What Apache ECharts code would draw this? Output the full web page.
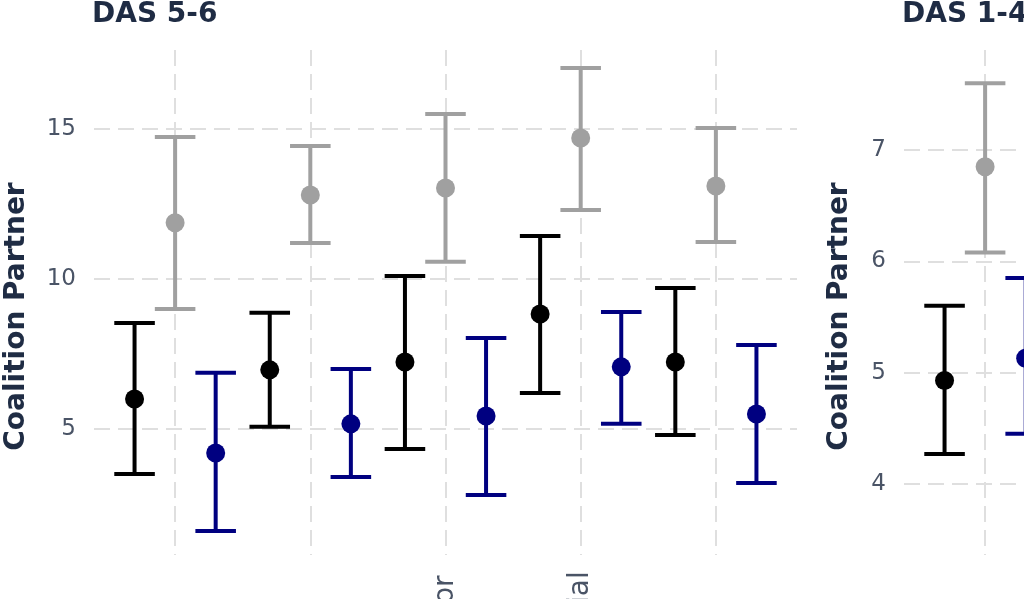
<!DOCTYPE html>
<html>
<head>
<meta charset="utf-8">
<style>
  html, body { margin: 0; padding: 0; background: #ffffff; }
  #chart { width: 1024px; height: 599px; }
</style>
<script src="https://cdn.jsdelivr.net/npm/echarts@6/dist/echarts.min.js"></script>
</head>
<body>
<div id="chart"></div>
<script>
// x categories (only the tail of two labels shows inside the crop)
var categories = ["Rich", "Middle", "Urban Poor", "Presidential", "Other"];
var panelTitles = ["DAS 5-6", "DAS 1-4"];

// DAS 5-6 panel: estimate, lower and upper bound per category
var blackEst56 = [6.0, 6.97, 7.23, 8.83, 7.23];
var blackLo56 = [3.5, 5.07, 4.33, 6.2, 4.8];
var blackHi56 = [8.53, 8.87, 10.1, 11.43, 9.7];

var grayEst56 = [11.87, 12.8, 13.03, 14.7, 13.1];
var grayLo56 = [9.0, 11.2, 10.57, 12.3, 11.23];
var grayHi56 = [14.73, 14.43, 15.5, 17.03, 15.03];

var navyEst56 = [4.2, 5.17, 5.43, 7.07, 5.5];
var navyLo56 = [1.6, 3.4, 2.8, 5.17, 3.2];
var navyHi56 = [6.87, 7.0, 8.03, 8.9, 7.8];

// DAS 1-4 panel: only the first category is inside the picture
var blackEst14 = [4.93];
var blackLo14 = [4.27];
var blackHi14 = [5.6];

var grayEst14 = [6.85];
var grayLo14 = [6.08];
var grayHi14 = [7.6];

var navyEst14 = [5.13];
var navyLo14 = [4.45];
var navyHi14 = [5.85];

var textColor = "#4a5466";
var titleColor = "#1f2c44";
var font = "DejaVu Sans";
var gridLine = { color: "#dfdfdf", width: 2, type: [16, 8] };

function rows(est, lo, hi) {
  return est.map(function (e, i) {
    return [i + 1, lo[i], hi[i], e];
  });
}

// ggplot-like errorbar + point, dodged inside each category
function errorBar(shift, color) {
  return function (params, api) {
    var unit = api.size([1, 0])[0];
    var half = 0.15 * unit;
    var top = api.coord([api.value(0), api.value(2)]);
    var bot = api.coord([api.value(0), api.value(1)]);
    var mid = api.coord([api.value(0), api.value(3)]);
    var x = top[0] + shift * unit;
    var st = { stroke: color, lineWidth: 4 };
    return {
      type: "group",
      children: [
        { type: "line", shape: { x1: x, y1: top[1], x2: x, y2: bot[1] }, style: st },
        { type: "line", shape: { x1: x - half, y1: top[1], x2: x + half, y2: top[1] }, style: st },
        { type: "line", shape: { x1: x - half, y1: bot[1], x2: x + half, y2: bot[1] }, style: st },
        { type: "circle", shape: { cx: x, cy: mid[1], r: 9.5 }, style: { fill: color } }
      ]
    };
  };
}

function xAxisFor(idx) {
  return {
    type: "value",
    gridIndex: idx,
    min: 0.4,
    max: 5.6,
    axisLine: { show: false },
    axisTick: { show: false },
    splitLine: { show: true, showMinLine: false, showMaxLine: false, lineStyle: gridLine },
    axisLabel: {
      showMinLabel: false,
      showMaxLabel: false,
      hideOverlap: false,
      rotate: 90,
      align: "center",
      verticalAlign: "middle",
      margin: 98,
      fontSize: 28,
      fontFamily: font,
      color: textColor,
      formatter: function (v) {
        return categories[v - 1] || "";
      }
    }
  };
}

function yAxisFor(idx, min, max, split, gap) {
  return {
    type: "value",
    gridIndex: idx,
    min: min,
    max: max,
    splitNumber: split,
    axisLine: { show: false },
    axisTick: { show: false },
    splitLine: { show: true, showMinLine: false, showMaxLine: false, lineStyle: gridLine },
    axisLabel: {
      showMinLabel: false,
      showMaxLabel: false,
      margin: 18,
      fontSize: 23,
      fontFamily: font,
      color: textColor
    },
    name: "Coalition Partner",
    nameLocation: "middle",
    nameGap: gap,
    nameMoveOverlap: false,
    nameTextStyle: {
      fontSize: 28,
      fontWeight: "bold",
      fontFamily: font,
      color: titleColor,
      padding: [0, 28, 0, 0]
    }
  };
}

function seriesFor(idx, est, lo, hi, shift, color) {
  return {
    type: "custom",
    xAxisIndex: idx,
    yAxisIndex: idx,
    renderItem: errorBar(shift, color),
    encode: { x: 0, y: [1, 2, 3] },
    data: rows(est, lo, hi),
    clip: false
  };
}

var chart = echarts.init(document.getElementById("chart"));
chart.setOption({
  backgroundColor: "#ffffff",
  animation: false,
  title: [
    { text: panelTitles[0], left: 92, top: 1, padding: 0,
      textStyle: { fontSize: 28, fontWeight: "bold", fontFamily: font, color: titleColor } },
    { text: panelTitles[1], left: 902, top: 1, padding: 0,
      textStyle: { fontSize: 28, fontWeight: "bold", fontFamily: font, color: titleColor } }
  ],
  grid: [
    { left: 94, top: 50, width: 703, height: 505, containLabel: false, outerBoundsMode: "none" },
    { left: 904, top: 50, width: 703, height: 505, containLabel: false, outerBoundsMode: "none" }
  ],
  xAxis: [xAxisFor(0), xAxisFor(1)],
  yAxis: [yAxisFor(0, 0.8, 17.63, 3, 63), yAxisFor(1, 3.362, 7.898, 5, 50)],
  series: [
    seriesFor(0, blackEst56, blackLo56, blackHi56, -0.3, "#000000"),
    seriesFor(0, grayEst56, grayLo56, grayHi56, 0, "#a0a0a0"),
    seriesFor(0, navyEst56, navyLo56, navyHi56, 0.3, "#000080"),
    seriesFor(1, blackEst14, blackLo14, blackHi14, -0.3, "#000000"),
    seriesFor(1, grayEst14, grayLo14, grayHi14, 0, "#a0a0a0"),
    seriesFor(1, navyEst14, navyLo14, navyHi14, 0.3, "#000080")
  ]
});
</script>
</body>
</html>
